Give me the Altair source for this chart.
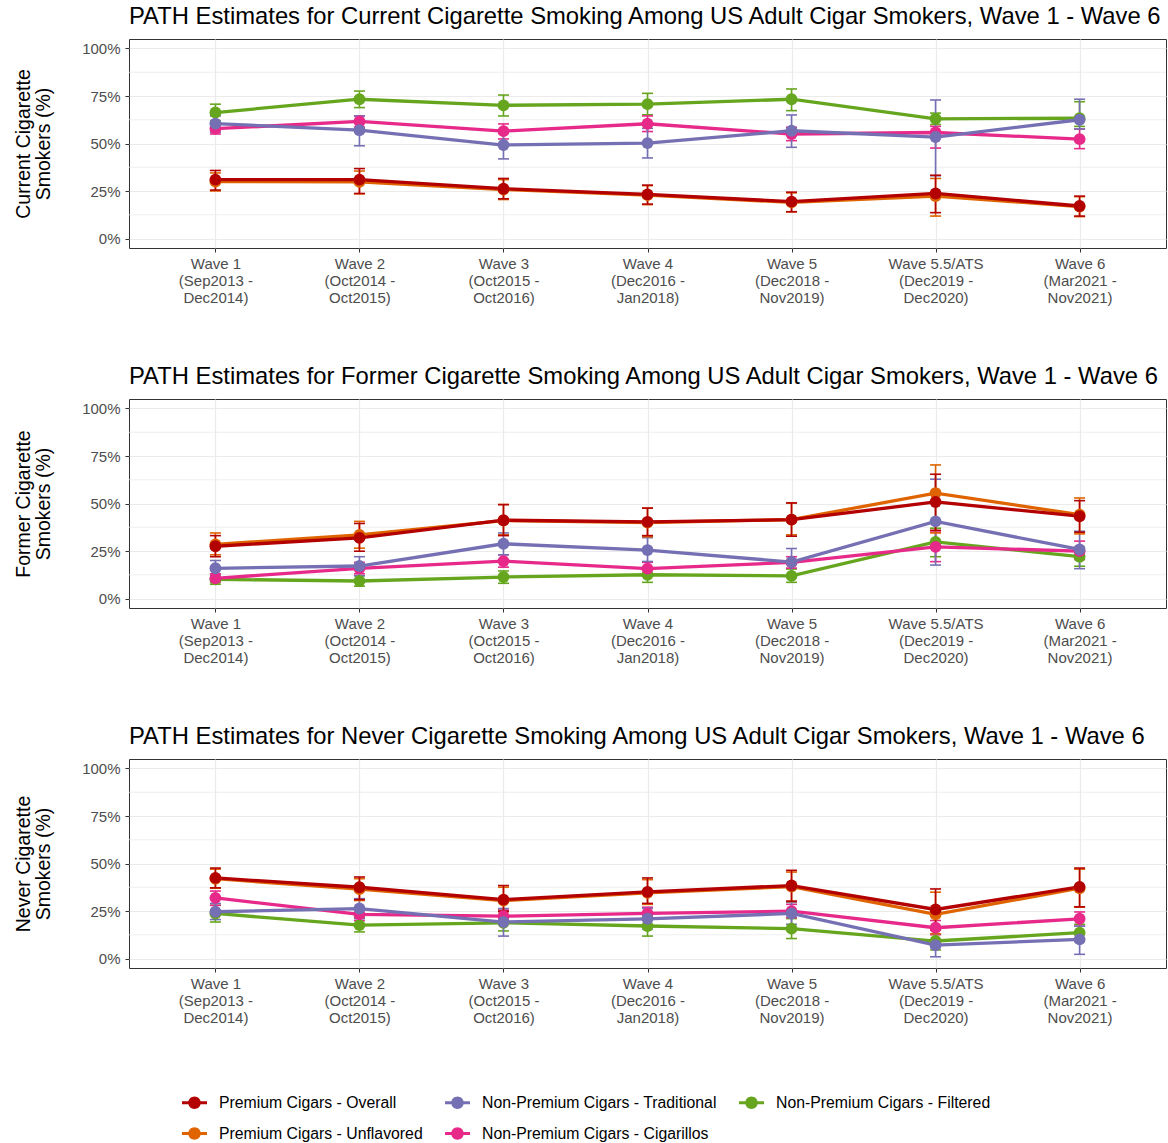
import altair as alt
import pandas as pd

# Survey waves and their fieldwork periods
wave_names = ["Wave 1", "Wave 2", "Wave 3", "Wave 4", "Wave 5", "Wave 5.5/ATS", "Wave 6"]
wave_starts = ["(Sep2013 -", "(Oct2014 -", "(Oct2015 -", "(Dec2016 -", "(Dec2018 -", "(Dec2019 -", "(Mar2021 -"]
wave_ends = ["Dec2014)", "Oct2015)", "Oct2016)", "Jan2018)", "Nov2019)", "Dec2020)", "Nov2021)"]

# Cigar product groups (legend order, filled row by row in three columns)
series = [
    "Premium Cigars - Overall",
    "Non-Premium Cigars - Traditional",
    "Non-Premium Cigars - Filtered",
    "Premium Cigars - Unflavored",
    "Non-Premium Cigars - Cigarillos",
]
series_colors = ["#B30000", "#7570B3", "#66A61E", "#DF6400", "#E7298A"]
# Drawing order, bottom to top
draw_order = [
    "Non-Premium Cigars - Filtered",
    "Non-Premium Cigars - Cigarillos",
    "Non-Premium Cigars - Traditional",
    "Premium Cigars - Unflavored",
    "Premium Cigars - Overall",
]

# Current cigarette smoking (%): estimate, lower and upper CI per wave
current_est = {
    "Premium Cigars - Overall": [31.0, 31.0, 26.2, 23.2, 19.4, 23.7, 17.1],
    "Premium Cigars - Unflavored": [30.0, 29.8, 25.8, 22.8, 19.0, 22.3, 16.8],
    "Non-Premium Cigars - Traditional": [60.5, 57.0, 49.2, 50.2, 56.7, 53.4, 62.5],
    "Non-Premium Cigars - Cigarillos": [57.8, 61.6, 56.5, 60.4, 55.0, 55.8, 52.3],
    "Non-Premium Cigars - Filtered": [66.3, 73.3, 70.1, 70.7, 73.3, 63.0, 63.3],
}
current_lo = {
    "Premium Cigars - Overall": [25.5, 23.7, 20.9, 18.1, 14.1, 13.6, 11.8],
    "Premium Cigars - Unflavored": [25.0, 23.5, 20.5, 17.8, 14.0, 11.8, 11.5],
    "Non-Premium Cigars - Traditional": [56.0, 48.8, 41.9, 42.4, 48.0, 33.0, 57.6],
    "Non-Premium Cigars - Cigarillos": [55.0, 58.7, 52.4, 56.3, 51.5, 47.6, 47.3],
    "Non-Premium Cigars - Filtered": [62.0, 68.9, 64.5, 65.1, 67.3, 60.0, 59.0],
}
current_hi = {
    "Premium Cigars - Overall": [35.8, 36.8, 31.6, 28.1, 24.4, 33.3, 22.3],
    "Premium Cigars - Unflavored": [34.5, 35.5, 31.0, 27.8, 24.0, 31.6, 22.0],
    "Non-Premium Cigars - Traditional": [64.5, 64.5, 55.5, 58.0, 65.0, 72.9, 73.3],
    "Non-Premium Cigars - Cigarillos": [60.5, 64.5, 60.3, 64.5, 58.5, 59.0, 57.6],
    "Non-Premium Cigars - Filtered": [70.7, 77.6, 75.5, 76.4, 78.7, 66.0, 72.0],
}

# Former cigarette smoking (%)
former_est = {
    "Premium Cigars - Overall": [27.5, 31.9, 41.2, 40.3, 41.5, 50.8, 43.3],
    "Premium Cigars - Unflavored": [28.5, 33.5, 41.0, 40.0, 41.5, 55.5, 44.1],
    "Non-Premium Cigars - Traditional": [15.9, 17.1, 28.8, 25.5, 19.2, 40.6, 25.8],
    "Non-Premium Cigars - Cigarillos": [10.6, 15.9, 19.7, 15.7, 19.0, 27.2, 24.9],
    "Non-Premium Cigars - Filtered": [10.1, 9.2, 11.3, 12.5, 11.9, 29.8, 22.0],
}
former_lo = {
    "Premium Cigars - Overall": [22.0, 24.9, 33.1, 33.1, 32.8, 35.9, 34.9],
    "Premium Cigars - Unflavored": [23.0, 26.5, 33.5, 32.5, 33.5, 34.5, 34.0],
    "Non-Premium Cigars - Traditional": [12.0, 12.0, 23.0, 19.5, 12.5, 17.6, 15.7],
    "Non-Premium Cigars - Cigarillos": [8.5, 13.0, 16.5, 12.5, 16.0, 19.4, 20.5],
    "Non-Premium Cigars - Filtered": [7.5, 6.5, 8.0, 8.5, 8.5, 22.0, 17.0],
}
former_hi = {
    "Premium Cigars - Overall": [33.1, 39.5, 49.4, 47.6, 50.3, 65.4, 51.5],
    "Premium Cigars - Unflavored": [34.5, 40.6, 49.5, 47.5, 50.3, 70.3, 52.9],
    "Non-Premium Cigars - Traditional": [20.0, 22.0, 34.5, 32.0, 26.3, 62.8, 35.4],
    "Non-Premium Cigars - Cigarillos": [13.0, 19.0, 23.0, 19.0, 22.0, 35.0, 30.2],
    "Non-Premium Cigars - Filtered": [13.0, 12.0, 14.5, 16.0, 15.5, 37.0, 27.0],
}

# Never cigarette smoking (%)
never_est = {
    "Premium Cigars - Overall": [42.4, 37.5, 31.0, 35.1, 38.4, 25.8, 37.7],
    "Premium Cigars - Unflavored": [42.0, 36.5, 30.5, 34.6, 37.8, 23.2, 37.0],
    "Non-Premium Cigars - Traditional": [24.6, 26.3, 19.2, 20.9, 23.7, 7.0, 10.1],
    "Non-Premium Cigars - Cigarillos": [31.9, 23.2, 22.3, 23.7, 24.9, 16.2, 20.9],
    "Non-Premium Cigars - Filtered": [23.7, 17.6, 18.8, 17.1, 15.7, 9.2, 13.6],
}
never_lo = {
    "Premium Cigars - Overall": [37.2, 31.0, 24.9, 29.0, 30.2, 15.0, 27.2],
    "Premium Cigars - Unflavored": [37.0, 30.5, 24.5, 28.5, 30.0, 13.0, 27.0],
    "Non-Premium Cigars - Traditional": [20.5, 21.0, 11.8, 15.5, 18.0, 0.9, 2.2],
    "Non-Premium Cigars - Cigarillos": [28.0, 20.0, 19.0, 20.5, 21.5, 12.5, 17.0],
    "Non-Premium Cigars - Filtered": [19.2, 14.0, 14.5, 11.8, 10.5, 4.5, 9.0],
}
never_hi = {
    "Premium Cigars - Overall": [47.6, 42.9, 38.4, 42.4, 46.4, 36.6, 47.6],
    "Premium Cigars - Unflavored": [47.0, 42.0, 37.5, 41.5, 45.5, 34.9, 47.0],
    "Non-Premium Cigars - Traditional": [29.0, 31.5, 26.3, 26.5, 29.5, 13.0, 17.0],
    "Non-Premium Cigars - Cigarillos": [35.5, 26.5, 25.5, 27.0, 28.5, 20.0, 24.5],
    "Non-Premium Cigars - Filtered": [28.0, 21.5, 23.0, 22.0, 21.0, 13.0, 18.0],
}

panels = [
    ("PATH Estimates for Current Cigarette Smoking Among US Adult Cigar Smokers, Wave 1 - Wave 6",
     ["Current Cigarette", "Smokers (%)"], current_est, current_lo, current_hi),
    ("PATH Estimates for Former Cigarette Smoking Among US Adult Cigar Smokers, Wave 1 - Wave 6",
     ["Former Cigarette", "Smokers (%)"], former_est, former_lo, former_hi),
    ("PATH Estimates for Never Cigarette Smoking Among US Adult Cigar Smokers, Wave 1 - Wave 6",
     ["Never Cigarette", "Smokers (%)"], never_est, never_lo, never_hi),
]

major_ticks = [0, 25, 50, 75, 100]
minor_ticks = [12.5, 37.5, 62.5, 87.5]

wave_keys = ["|".join(t) for t in zip(wave_names, wave_starts, wave_ends)]

FONT = "Liberation Sans"
GRID = "#EBEBEB"

# Line segment with a dot on it, used as the legend key
legend_path = (
    "M-1,-0.12L1,-0.12L1,0.12L-1,0.12Z"
    "M0.5,0A0.5,0.5,0,1,1,-0.5,0A0.5,0.5,0,1,1,0.5,0Z"
)

legend = alt.Legend(
    title=None,
    orient="none",
    legendX=53,
    legendY=1051,
    direction="horizontal",
    columns=3,
    symbolType=legend_path,
    symbolSize=625,
    symbolStrokeWidth=0,
    symbolOpacity=1,
    labelOffset=12,
    labelFontSize=15.8,
    labelFont=FONT,
    labelColor="black",
    labelLimit=0,
    columnPadding=22,
    rowPadding=10,
)

color_enc = alt.Color("series:N", scale=alt.Scale(domain=series, range=series_colors), legend=legend)

x_enc = alt.X(
    "wave:N",
    sort=wave_keys,
    scale=alt.Scale(type="point", padding=0.6),
    axis=alt.Axis(
        title=None,
        labelExpr="split(datum.label, '|')",
        labelAngle=0,
        labelLineHeight=17,
        labelPadding=4,
        grid=True,
        gridColor=GRID,
        gridWidth=1.2,
    ),
)

y_scale = alt.Scale(domain=[-5, 105], nice=False, zero=False)


def y_enc(field, title):
    return alt.Y(
        field,
        scale=y_scale,
        axis=alt.Axis(
            title=title,
            values=major_ticks,
            labelExpr="datum.value + '%'",
            labelPadding=5,
            grid=True,
            gridColor=GRID,
            gridWidth=1.2,
            titleLineHeight=20,
            titlePadding=28,
        ),
    )


def make_panel(title, ytitle, est, lo, hi):
    rows = []
    for s in draw_order:
        for i, key in enumerate(wave_keys):
            rows.append({"wave": key, "series": s, "est": est[s][i], "lo": lo[s][i], "hi": hi[s][i]})
    df = pd.DataFrame(rows)
    minor_df = pd.DataFrame({"v": minor_ticks})

    minor = alt.Chart(minor_df).mark_rule(color=GRID, strokeWidth=0.8).encode(y=y_enc("v:Q", ytitle))

    layers = [minor]
    # error bars first, then lines, then points
    for s in draw_order:
        sub = alt.Chart(df).transform_filter(alt.datum.series == s)
        layers.append(
            sub.mark_rule(strokeWidth=1.6).encode(x=x_enc, y=y_enc("lo:Q", ytitle), y2="hi:Q", color=color_enc)
        )
        for end in ("lo:Q", "hi:Q"):
            layers.append(
                sub.mark_tick(thickness=1.6, size=11, opacity=1).encode(
                    x=x_enc, y=y_enc(end, ytitle), color=color_enc
                )
            )
    for s in draw_order:
        sub = alt.Chart(df).transform_filter(alt.datum.series == s)
        layers.append(
            sub.mark_line(strokeWidth=3.3).encode(x=x_enc, y=y_enc("est:Q", ytitle), color=color_enc)
        )
    for s in draw_order:
        sub = alt.Chart(df).transform_filter(alt.datum.series == s)
        layers.append(
            sub.mark_point(filled=True, size=140, opacity=1, shape="circle").encode(
                x=x_enc, y=y_enc("est:Q", ytitle), color=color_enc
            )
        )

    return alt.layer(*layers).properties(
        width=1037,
        height=209,
        title=alt.TitleParams(
            title,
            anchor="start",
            frame="group",
            fontSize=23.8,
            font=FONT,
            fontWeight="normal",
            color="black",
            offset=10,
        ),
    )


chart = alt.vconcat(*[make_panel(*p) for p in panels], spacing=58).configure_view(
    stroke="#333333", strokeWidth=1
).configure_axis(
    domain=False,
    tickColor="#333333",
    tickSize=4,
    labelColor="#4D4D4D",
    labelFontSize=15,
    labelFont=FONT,
    titleFont=FONT,
    titleFontSize=19.5,
    titleColor="black",
    titleFontWeight="normal",
).properties(
    padding={"left": 13, "top": 4, "right": 0, "bottom": 0},
    background="white",
)

chart.save("out.html", embed_options={"renderer": "svg", "actions": False})
